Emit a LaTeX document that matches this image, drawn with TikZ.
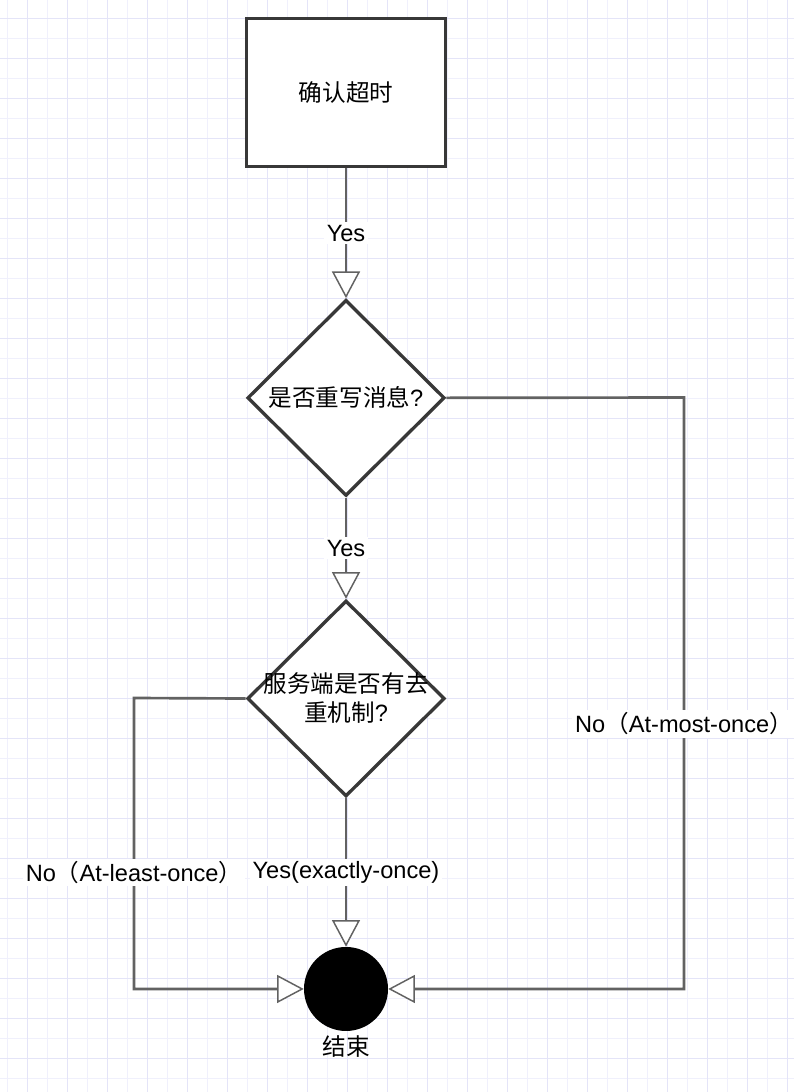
\documentclass[tikz,border=0pt]{standalone}
\usepackage{fontspec}
\setmainfont{Liberation Sans}
\newfontfamily\cjk{Noto Sans CJK SC}
\usepackage{tikz}
\usetikzlibrary{arrows.meta,positioning,shapes.geometric}
\definecolor{gridminor}{HTML}{F0F0FC}
\definecolor{gridmajor}{HTML}{E4E4F8}
\definecolor{shapeedge}{HTML}{383838}
\definecolor{flowedge}{HTML}{626262}

\begin{document}
\begin{tikzpicture}[x=0.75pt, y=-0.75pt,
                    font=\fontsize{17.7pt}{21.75pt}\selectfont,
                    gridline/.style={gridminor, line width=0.75pt},
                    gridbold/.style={gridmajor, line width=0.75pt},
                    proc/.style={rectangle, draw=shapeedge, line width=2.5pt, fill=white,
                                 minimum width=149pt, minimum height=111pt},
                    decide/.style={diamond, draw=shapeedge, line width=2.5pt, fill=white,
                                   inner sep=0pt, minimum width=148pt, minimum height=147pt},
                    stopdot/.style={circle, fill=black, inner sep=0pt, minimum size=63pt},
                    flow/.style={draw=flowedge, line width=2pt,
                                 -{Triangle[length=20pt, width=21pt, fill=white, line width=1.1pt]}},
                    cond/.style={fill=white, text=black, inner sep=2pt}]

    \useasboundingbox (0,0) rectangle (794,1092);
    \fill[white] (0,0) rectangle (794,1092);
    \foreach \gx in {7,27,...,787}
        \draw[gridline] (\gx,0) -- (\gx,1092);
    \foreach \gy in {18,38,...,1078}
        \draw[gridline] (0,\gy) -- (794,\gy);
    \foreach \gx in {27,67,...,787}
        \draw[gridbold] (\gx,0) -- (\gx,1092);
    \foreach \gy in {18,58,...,1078}
        \draw[gridbold] (0,\gy) -- (794,\gy);

    \node[proc] (timeout) at (346,92.5) {\cjk 确认超时};
    \node[decide, below=97.5pt of timeout,
          label=center:{{\cjk 是否重写消息}?}] (rewrite) {};
    \node[decide, below=76pt of rewrite,
          label={[align=center]center:{\cjk 服务端是否有去}\\{\cjk 重机制}?}] (dedup) {};
    \node[stopdot, below=111.4pt of dedup, label=below:{\cjk 结束}] (stop) {};

    \coordinate (leftturn) at (134,698);
    \coordinate (rightturn) at (684,397.5);

    \draw[flow] (timeout) -- node[cond]{Yes} (rewrite);
    \draw[flow] (rewrite) -- node[cond]{Yes} (dedup);
    \draw[flow] (dedup) -- node[cond]{Yes(exactly-once)} (stop);
    \draw[flow] (dedup.west) -- (leftturn) |- node[cond, pos=.3]{No{\cjk （}At-least-once{\cjk ）}} (stop.west);
    \draw[flow] (rewrite.east) -- (rightturn) |- node[cond, pos=.276]{No{\cjk （}At-most-once{\cjk ）}} (stop.east);

\end{tikzpicture}
\end{document}
